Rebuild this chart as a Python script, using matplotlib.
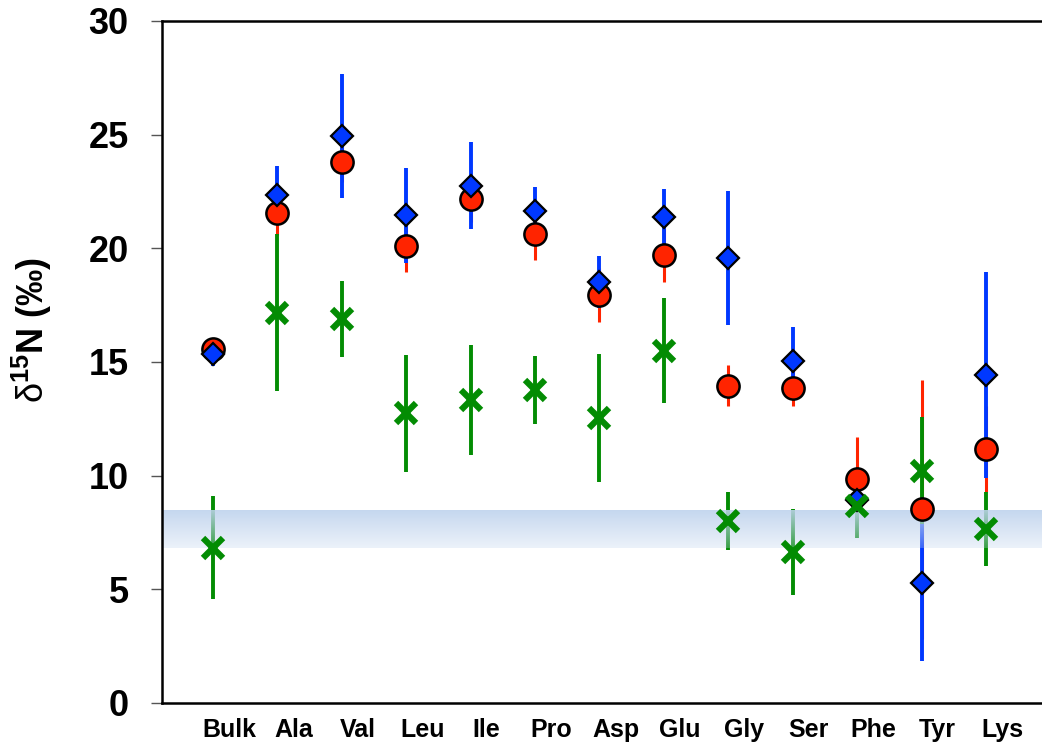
import matplotlib
matplotlib.use("Agg")
import matplotlib.pyplot as plt
import matplotlib.transforms as mtransforms
import numpy as np

plt.rcParams['font.family'] = ['Liberation Sans', 'DejaVu Sans']
plt.rcParams['mathtext.fontset'] = 'custom'
plt.rcParams['mathtext.rm'] = 'Liberation Sans'
plt.rcParams['mathtext.bf'] = 'Liberation Sans:bold'

# d15N of bulk tissue and individual amino acids
cats = ['Bulk', 'Ala', 'Val', 'Leu', 'Ile', 'Pro', 'Asp', 'Glu', 'Gly', 'Ser', 'Phe', 'Tyr', 'Lys']

red = [15.56, 21.57, 23.80, 20.10, 22.17, 20.63, 17.95, 19.71, 13.95, 13.87, 9.84, 8.52, 11.19]
red_err = [0.3, 1.0, 0.9, 1.12, 1.0, 1.14, 1.17, 1.19, 0.9, 0.8, 1.85, 5.69, 1.89]

blue = [15.34, 22.35, 24.94, 21.45, 22.76, 21.64, 18.52, 21.37, 19.56, 15.06, 8.93, 5.29, 14.43]
blue_err = [0.5, 1.29, 2.72, 2.09, 1.9, 1.07, 1.14, 1.23, 2.94, 1.47, 0.3, 3.46, 4.53]

green = [6.83, 17.17, 16.89, 12.74, 13.33, 13.77, 12.54, 15.5, 8.0, 6.63, 8.68, 10.22, 7.64]
green_err = [2.27, 3.46, 1.68, 2.57, 2.42, 1.5, 2.8, 2.3, 1.26, 1.9, 1.44, 2.35, 1.63]

# shaded reference range
band_lo, band_hi = 6.82, 8.45

c_red = '#ff2400'
c_blue = '#0038ff'
c_green = '#038c03'

fig = plt.figure(figsize=(10.42, 7.42), dpi=100)
ax = fig.add_axes([0.1555, 0.0526, 0.8445, 0.9191])

x = np.arange(len(cats))

# error bars: red under blue under green
ax.errorbar(x, red, yerr=red_err, fmt='none', ecolor=c_red, elinewidth=2.2, capsize=0, zorder=2)
ax.errorbar(x, blue, yerr=blue_err, fmt='none', ecolor=c_blue, elinewidth=2.8, capsize=0, zorder=2.1)
ax.errorbar(x, green, yerr=green_err, fmt='none', ecolor=c_green, elinewidth=2.8, capsize=0, zorder=2.2)

# gradient band over the bars, fading toward the bottom
xlo, xhi = -0.79, 12.87
n = 64
grad = np.zeros((n, 1, 4))
grad[:, 0, 0] = 0.75
grad[:, 0, 1] = 0.83
grad[:, 0, 2] = 0.93
grad[:, 0, 3] = np.linspace(0.9, 0.3, n)
ax.imshow(grad, extent=[xlo, xhi, band_lo, band_hi], aspect='auto', origin='upper',
          interpolation='bilinear', zorder=2.5)

ax.plot(x, red, 'o', ms=16, mfc=c_red, mec='black', mew=1.8, ls='none', zorder=3)
ax.plot(x, blue, 'D', ms=11, mfc=c_blue, mec='black', mew=1.6, ls='none', zorder=3.1)
ax.plot(x, green, 'x', ms=15, mec=c_green, mew=4.5, ls='none', zorder=3.2)

ax.set_xlim(xlo, xhi)
ax.set_ylim(0, 30)
ax.set_yticks(np.arange(0, 31, 5))
ax.set_xticks(x)
ax.set_xticklabels(cats, fontsize=18, fontweight='bold')
for lab in ax.get_yticklabels():
    lab.set_fontsize(26)
    lab.set_fontweight('bold')

ax.tick_params(axis='x', length=0, pad=11)
ax.tick_params(axis='y', length=8, width=1, color='#555555', pad=16)

# nudge category labels to the right
shift = mtransforms.ScaledTranslation(16 / 100, 0, fig.dpi_scale_trans)
for lab in ax.get_xticklabels():
    lab.set_transform(lab.get_transform() + shift)

ax.spines['right'].set_visible(False)
for s in ['left', 'top', 'bottom']:
    ax.spines[s].set_linewidth(1.8)

fig.text(0.031, 0.555, r'$\mathrm{\delta}^{\mathbf{15}}$N (‰)', rotation=90, fontsize=26,
         fontweight='bold', ha='center', va='center')

fig.savefig('out.png', dpi=100)
